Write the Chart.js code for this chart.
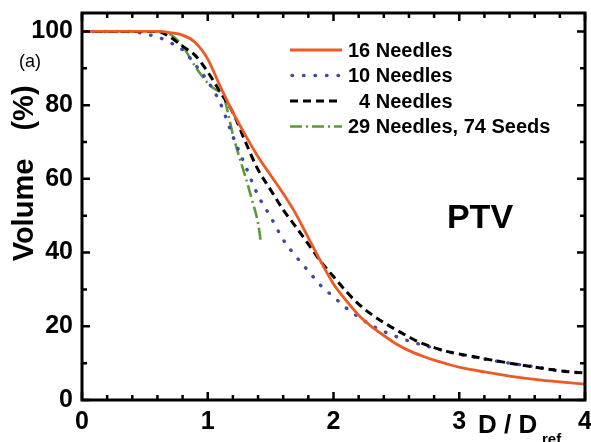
<!DOCTYPE html>
<html>
<head>
<meta charset="utf-8">
<script src="https://cdn.jsdelivr.net/npm/chart.js@4/dist/chart.umd.min.js"></script>
<style>
  html, body { margin: 0; padding: 0; background: #fff; }
  #wrap { width: 591px; height: 442px; position: relative; }
</style>
</head>
<body>
<div id="wrap"><canvas id="c" width="591" height="442"></canvas></div>
<script>
// ---- data ----
const seriesNames = ["16 Needles", "10 Needles", "4 Needles", "29 Needles, 74 Seeds"];
const legendLabels = ["16 Needles", "10 Needles", "  4 Needles", "29 Needles, 74 Seeds"];

const dose16 = [0, 0.6, 0.7, 0.8, 0.9, 1.0, 1.1, 1.2, 1.3, 1.4, 1.5, 1.6, 1.7, 1.8, 1.9, 2.0, 2.1, 2.2, 2.3, 2.4, 2.5, 2.6, 2.7, 2.8, 2.9, 3.0, 3.2, 3.4, 3.6, 3.8, 4.0];
const vol16  = [100, 100, 99.7, 99, 97, 92.5, 85, 78, 71.8, 66, 61, 56, 50.5, 44, 37.5, 31.5, 27, 23, 20, 17.5, 15.2, 13.4, 12, 10.8, 9.8, 8.9, 7.6, 6.5, 5.6, 4.9, 4.3];

const dose10 = [0, 0.4, 0.5, 0.6, 0.7, 0.8, 0.9, 1.0, 1.1, 1.2, 1.3, 1.4, 1.5, 1.6, 1.7, 1.8, 1.9, 2.0, 2.1, 2.2, 2.3, 2.4, 2.5, 2.6, 2.7, 2.8, 2.9, 3.0, 3.2, 3.4, 3.6, 3.8, 4.0];
const vol10  = [100, 100, 99.3, 98.5, 97, 95, 91, 86.5, 80.5, 71.5, 63.5, 55.5, 49.7, 43.5, 39, 35, 31, 28, 25, 22.5, 20.3, 18.6, 17.2, 16, 15, 14.1, 13.2, 12.4, 11.1, 10, 9, 8, 7.2];

const dose4  = [0, 0.6, 0.7, 0.8, 0.9, 1.0, 1.1, 1.2, 1.3, 1.4, 1.5, 1.6, 1.7, 1.8, 1.9, 2.0, 2.1, 2.2, 2.3, 2.4, 2.5, 2.6, 2.7, 2.8, 2.9, 3.0, 3.2, 3.4, 3.6, 3.8, 4.0];
const vol4   = [100, 100, 98.5, 96, 93.5, 89, 83.5, 78, 70, 62.5, 57, 51.6, 47, 42.3, 37.5, 33.5, 29.5, 26, 23.3, 21, 19, 17.1, 15.4, 14.2, 13.2, 12.5, 11.2, 10, 8.9, 7.9, 7.3];

const dose29 = [0, 0.6, 0.7, 0.8, 0.9, 1.0, 1.05, 1.1, 1.13, 1.16, 1.2, 1.25, 1.3, 1.35, 1.4, 1.42];
const vol29  = [100, 100, 99.3, 96, 90.5, 86, 84.5, 83.5, 82, 78, 72, 66, 60.5, 54.5, 48, 43.5];

const xTickLabels = [0, 1, 2, 3, 4];
const yTickLabels = [0, 20, 40, 60, 80, 100];

// ---- styles ----
const colors = ["#ee5a24", "#3b4aa6", "#000000", "#5b9a36"];
const dashes = [[], [0.5, 11], [8, 5], [12, 4, 2, 4]];
const widths = [2.8, 3.4, 3, 2.6];
const caps = ['butt', 'round', 'butt', 'butt'];

function pts(xs, ys) { return xs.map((x, i) => ({ x: x, y: ys[i] })); }
const allX = [dose16, dose10, dose4, dose29];
const allY = [vol16, vol10, vol4, vol29];

const datasets = seriesNames.map((n, i) => ({
  label: n,
  data: pts(allX[i], allY[i]),
  borderColor: colors[i],
  backgroundColor: colors[i],
  borderWidth: widths[i],
  borderDash: dashes[i],
  borderCapStyle: caps[i],
  pointRadius: 0,
  fill: false,
  tension: 0.35,
  cubicInterpolationMode: 'monotone'
}));
datasets[0].order = 0; datasets[2].order = 1; datasets[1].order = 2; datasets[3].order = 3;

const FONT = "'Liberation Sans', Arial, sans-serif";

const decor = {
  id: 'decor',
  afterDatasetsDraw(chart) {
    const ctx = chart.ctx;
    const a = chart.chartArea;
    const xs = chart.scales.x, ys = chart.scales.y;
    ctx.save();
    // frame
    ctx.strokeStyle = '#000';
    ctx.lineWidth = 3;
    ctx.setLineDash([]);
    ctx.strokeRect(a.left, a.top, a.right - a.left, a.bottom - a.top);
    // ticks
    ctx.lineWidth = 2.5;
    for (let k = 0; k <= 20; k++) {
      const v = k * 0.2;
      const px = xs.getPixelForValue(v);
      const len = (k % 5 === 0) ? 8 : 5;
      ctx.beginPath();
      ctx.moveTo(px, a.bottom); ctx.lineTo(px, a.bottom - len);
      ctx.moveTo(px, a.top); ctx.lineTo(px, a.top + len);
      ctx.stroke();
    }
    for (let v = 0; v <= 100; v += 10) {
      const py = ys.getPixelForValue(v);
      const len = (v % 20 === 0) ? 8 : 5;
      ctx.beginPath();
      ctx.moveTo(a.left, py); ctx.lineTo(a.left + len, py);
      ctx.moveTo(a.right, py); ctx.lineTo(a.right - len, py);
      ctx.stroke();
    }
    // legend
    const lx0 = 290, lx1 = 342, ly0 = 50, dy = 25.5;
    for (let i = 0; i < 4; i++) {
      const y = ly0 + i * dy;
      ctx.strokeStyle = colors[i];
      ctx.lineWidth = widths[i];
      ctx.setLineDash(dashes[i]);
      ctx.lineCap = caps[i];
      ctx.beginPath();
      ctx.moveTo(lx0 + (i === 1 ? 2 : 0), y); ctx.lineTo(lx1, y);
      ctx.stroke();
      ctx.setLineDash([]);
      ctx.lineCap = 'butt';
      ctx.fillStyle = '#000';
      ctx.font = "bold 20px " + FONT;
      ctx.textAlign = 'left';
      ctx.textBaseline = 'middle';
      ctx.fillText(legendLabels[i], 348, y + 1);
    }
    // PTV
    ctx.font = "bold 34px " + FONT;
    ctx.textAlign = 'center';
    ctx.textBaseline = 'middle';
    ctx.fillStyle = '#000';
    ctx.fillText('PTV', 480, 219);
    // (a)
    ctx.font = "18px " + FONT;
    ctx.fillText('(a)', 30, 62);
    // x title
    ctx.font = "bold 26px " + FONT;
    ctx.textAlign = 'left';
    ctx.textBaseline = 'alphabetic';
    ctx.fillText('D / D', 478, 433);
    ctx.font = "bold 15px " + FONT;
    ctx.fillText('ref', 542, 444);
    // y title
    ctx.translate(33, 0);
    ctx.rotate(-Math.PI / 2);
    ctx.font = "bold 29px " + FONT;
    ctx.textAlign = 'center';
    ctx.textBaseline = 'alphabetic';
    ctx.fillText('Volume', -210, 0);
    ctx.fillText('(%)', -108, 0);
    ctx.restore();
  }
};

new Chart(document.getElementById('c'), {
  type: 'line',
  data: { datasets: datasets },
  options: {
    responsive: false,
    animation: false,
    events: [],
    layout: { padding: { left: 0, right: 6, top: 13, bottom: 0 } },
    plugins: { legend: { display: false }, tooltip: { enabled: false } },
    scales: {
      x: {
        type: 'linear', min: 0, max: 4,
        grid: { display: false, drawTicks: false },
        border: { display: false },
        ticks: { stepSize: 1, padding: 7, color: '#000', maxRotation: 0,
                 font: { family: FONT, weight: 'bold', size: 25 } },
        afterBuildTicks(s) { s.ticks = xTickLabels.map(v => ({ value: v })); },
        afterFit(s) { s.height = 42; s.paddingLeft = 0; s.paddingRight = 0; }
      },
      y: {
        type: 'linear', min: 0, max: 105,
        grid: { display: false, drawTicks: false },
        border: { display: false },
        ticks: { padding: 9, color: '#000',
                 font: { family: FONT, weight: 'bold', size: 25 } },
        afterBuildTicks(s) { s.ticks = yTickLabels.map(v => ({ value: v })); },
        afterFit(s) { s.width = 82; s.paddingTop = 0; s.paddingBottom = 0; }
      }
    }
  },
  plugins: [decor]
});
</script>
</body>
</html>
